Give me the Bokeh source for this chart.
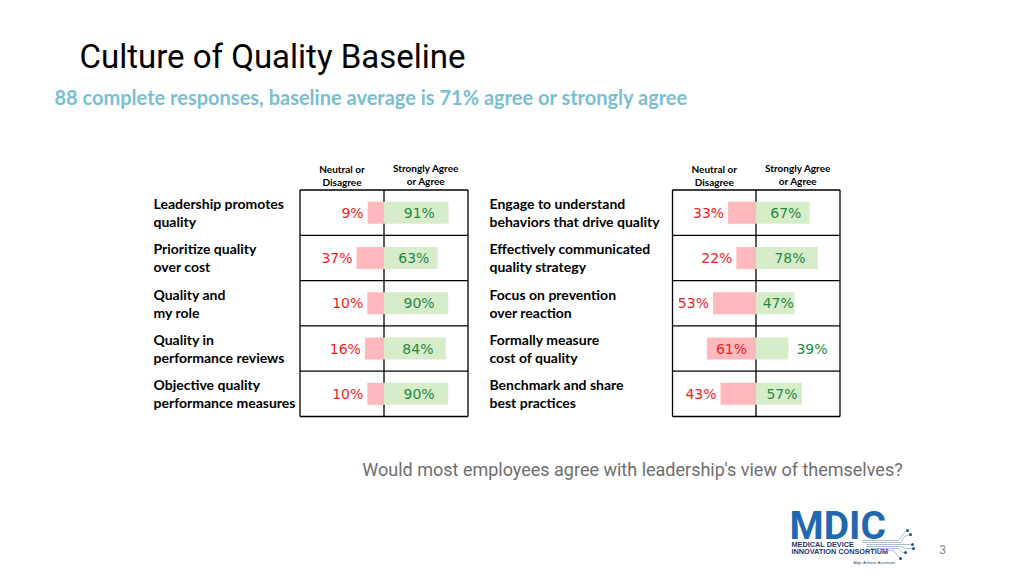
from bokeh.plotting import figure
from bokeh.models import Range1d
from bokeh.embed import file_html
from bokeh.resources import INLINE
from bokeh.core.properties import value

# ---------------- data ----------------
title = "Culture of Quality Baseline"
subtitle = "88 complete responses, baseline average is 71% agree or strongly agree"
question = "Would most employees agree with leadership's view of themselves?"
header_neg = ["Neutral or", "Disagree"]
header_pos = ["Strongly Agree", "or Agree"]

left_items = ["Leadership promotes\nquality",
              "Prioritize quality\nover cost",
              "Quality and\nmy role",
              "Quality in\nperformance reviews",
              "Objective quality\nperformance measures"]
left_neg = [9, 37, 10, 16, 10]
left_pos = [91, 63, 90, 84, 90]

right_items = ["Engage to understand\nbehaviors that drive quality",
               "Effectively communicated\nquality strategy",
               "Focus on prevention\nover reaction",
               "Formally measure\ncost of quality",
               "Benchmark and share\nbest practices"]
right_neg = [33, 22, 53, 61, 43]
right_pos = [67, 78, 47, 39, 57]

# label placement (style): True = inside the bar
right_neg_inside = [False, False, False, True, False]
right_pos_inside = [True, True, True, False, True]

logo_word = "MDIC"
logo_lines = ["MEDICAL DEVICE", "INNOVATION CONSORTIUM"]
logo_tag = "Align. Achieve. Accelerate."
page_number = "3"

# ---------------- figure (pixel coordinates) ----------------
W, H = 1016, 568
p = figure(width=W, height=H, output_backend="svg", toolbar_location=None,
           x_range=Range1d(0, W), y_range=Range1d(H, 0),
           x_axis_location=None, y_axis_location=None, min_border=0)
p.grid.visible = False
p.outline_line_color = None
p.background_fill_color = "white"
p.border_fill_color = "white"

RED_FILL = "#ffb8bc"
GREEN_FILL = "#d7edc9"
RED_TXT = "#ee1d26"
GREEN_TXT = "#1f8a44"
LABEL_FONT = value("Lato")
NUM_FONT = value("DejaVu Sans")

p.text(x=[79], y=[56], text=[title], text_font=value("Roboto"),
       text_font_size="33px", text_color="black", text_baseline="middle")
p.text(x=[54], y=[96], text=[subtitle], text_font=LABEL_FONT, text_font_style="bold",
       text_font_size="20px", text_color="#79bfd2", text_baseline="middle")
p.text(x=[632], y=[469], text=[question], text_font=value("Roboto"),
       text_font_size="18px", text_color="#6e6e6e", text_baseline="middle",
       text_align="center")


def panel(name, x_lab, x_l, x_c, x_r, items, neg, pos, sc_neg, sc_pos,
          neg_inside, pos_inside):
    top, row_h = 189.5, 45.3
    n = len(items)
    ys = [top + row_h * (i + 0.5) for i in range(n)]

    # table grid
    xs0 = [x_l, x_c, x_r]
    p.segment(x0=xs0, y0=[top] * 3, x1=xs0, y1=[top + row_h * n] * 3,
              line_color="black", line_width=1.3)
    hy = [top + row_h * i for i in range(n + 1)]
    p.segment(x0=[x_l] * (n + 1), y0=hy, x1=[x_r] * (n + 1), y1=hy,
              line_color="black", line_width=1.3)

    # headers
    hx_neg = (x_l + x_c) / 2
    hx_pos = (x_c + x_r) / 2
    for k in range(2):
        p.text(x=[hx_neg], y=[168 + 13 * k], text=[header_neg[k]], text_font=LABEL_FONT,
               text_font_style="bold", text_font_size="10px", text_align="center",
               text_baseline="middle", text_color="black")
        p.text(x=[hx_pos], y=[167 + 13 * k], text=[header_pos[k]], text_font=LABEL_FONT,
               text_font_style="bold", text_font_size="10px", text_align="center",
               text_baseline="middle", text_color="black")

    # row labels
    for y, lab in zip(ys, items):
        lines = lab.split("\n")
        for k, line in enumerate(lines):
            p.text(x=[x_lab], y=[y - 9 + 18 * k], text=[line], text_font=LABEL_FONT,
                   text_font_style="bold", text_font_size="14px", text_color="black",
                   text_baseline="middle")

    # bars: each column on its own scale (pixel length = a + b * value)
    for side, vals, (a, b), inside, fill, tcol in (
            (-1, neg, sc_neg, neg_inside, RED_FILL, RED_TXT),
            (1, pos, sc_pos, pos_inside, GREEN_FILL, GREEN_TXT)):
        rname = f"{name}_{side}"
        start = (side * (0 - x_c) - a) / b
        end = (side * (W - x_c) - a) / b
        p.extra_x_ranges[rname] = Range1d(start, end)
        base = -a / b
        p.hbar(y=ys, left=[base] * n, right=vals, height=22, x_range_name=rname,
               fill_color=fill, line_color=None)
        for y, v, ins in zip(ys, vals, inside):
            txt = f"{v}%"
            if ins:
                p.text(x=[(base + v) / 2], y=[y], text=[txt], x_range_name=rname,
                       x_offset=3 if side > 0 else 0, text_align="center",
                       text_baseline="middle", text_font=NUM_FONT,
                       text_font_size="14px", text_color=tcol)
            else:
                p.text(x=[v], y=[y], text=[txt], x_range_name=rname,
                       x_offset=8 if side > 0 else -4,
                       text_align="left" if side > 0 else "right",
                       text_baseline="middle", text_font=NUM_FONT,
                       text_font_size="14px", text_color=tcol)


panel("L", 153, 299.5, 383.5, 467.5, left_items, left_neg, left_pos,
      (12.75, 0.397), (28.9, 0.392),
      [False] * 5, [True] * 5)
panel("R", 489, 672, 755.5, 839.5, right_items, right_neg, right_pos,
      (3.0, 0.755), (3.0, 0.755),
      right_neg_inside, right_pos_inside)

# ---------------- logo ----------------
p.text(x=[789], y=[525], text=[logo_word], text_font=value("Roboto"),
       text_font_style="bold", text_font_size="39px", text_color="#1f68b2",
       text_baseline="middle")
for k, line in enumerate(logo_lines):
    p.text(x=[791], y=[544 + 7 * k], text=[line], text_font=value("Liberation Sans"),
           text_font_style="bold", text_font_size="7.3px", text_color="#1d3a6e",
           text_baseline="middle")
p.text(x=[853], y=[562], text=[logo_tag], text_font=value("Liberation Sans"),
       text_font_size="3.6px", text_color="#1d3a6e", text_baseline="middle")
# circuit traces
trace_xs = [[862, 898, 904, 907], [862, 900, 904, 910], [866, 912],
            [866, 900, 905, 913], [870, 898, 902, 905], [872, 893, 898, 900]]
trace_ys = [[540, 540, 532, 530], [542, 542, 536, 534], [544, 544],
            [546, 546, 548, 548], [548, 548, 552, 552], [550, 550, 556, 558]]
p.multi_line(xs=trace_xs, ys=trace_ys, line_color="#9fb6d3", line_width=0.9)
p.scatter(x=[xs[-1] for xs in trace_xs], y=[ys[-1] for ys in trace_ys],
          size=3, fill_color="#1f4f8a", line_color=None)

p.text(x=[942], y=[549], text=[page_number], text_font=value("Liberation Sans"),
       text_font_size="12px", text_color="#8a8a8a", text_baseline="middle",
       text_align="center")

open("out.html", "w").write(file_html(p, INLINE))
